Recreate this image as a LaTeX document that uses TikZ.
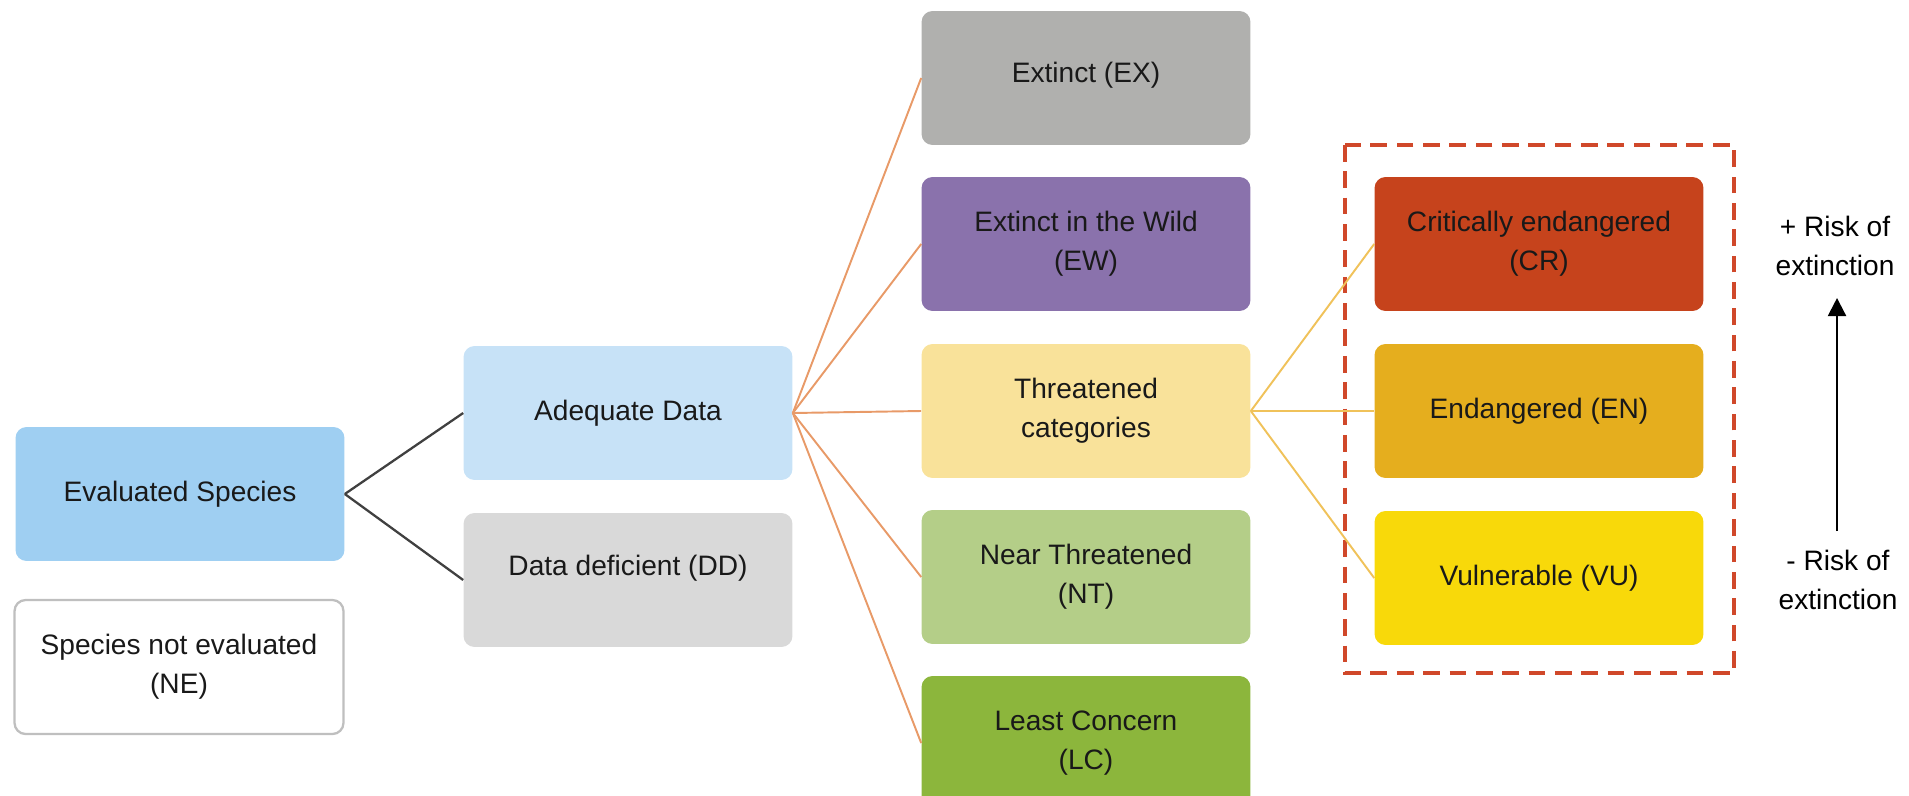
\documentclass[tikz,border=0pt]{standalone}
\usepackage{fontspec}
\setmainfont{Liberation Sans}
\usepackage{tikz}
\usetikzlibrary{positioning}
\usetikzlibrary{arrows.meta}

\definecolor{evalblue}{HTML}{9FCFF2}
\definecolor{adeqblue}{HTML}{C7E2F7}
\definecolor{ddgray}{HTML}{D9D9D9}
\definecolor{exgray}{HTML}{B0B0AE}
\definecolor{ewpurple}{HTML}{8A72AC}
\definecolor{thryellow}{HTML}{F9E29A}
\definecolor{ntgreen}{HTML}{B4CE88}
\definecolor{lcgreen}{HTML}{8CB63C}
\definecolor{crred}{HTML}{C6431C}
\definecolor{enorange}{HTML}{E5AE1E}
\definecolor{vuyellow}{HTML}{F8D90A}
\definecolor{linkorange}{HTML}{E89A68}
\definecolor{linkyellow}{HTML}{F0C25A}
\definecolor{framered}{HTML}{D0482A}

\tikzset{cat/.style={rectangle, rounded corners=0.22cm, minimum width=6.58cm, minimum height=2.68cm, align=center, inner sep=0pt, text=black!90}}
\tikzset{darklink/.style={draw=black!75, line width=1.3pt}}
\tikzset{orangelink/.style={draw=linkorange, line width=1.1pt}}
\tikzset{yellowlink/.style={draw=linkyellow, line width=1.1pt}}

\begin{document}
\begin{tikzpicture}[x=0.02cm, y=-0.02cm, font=\fontsize{16}{22}\selectfont]
\useasboundingbox (0,0) rectangle (1909,795);
\clip (0,0) rectangle (1909,795);
% first levels
\node[cat, fill=evalblue] (es) at (180,494) {Evaluated Species};
\node[cat, fill=white, draw=black!25, line width=1.3pt] (ne) at (179,667) {Species not evaluated\\(NE)};
\node[cat, fill=adeqblue] (ad) at (628,413) {Adequate Data};
\node[cat, fill=ddgray] (dd) at (628,580) {\raisebox{0.6cm}{Data deficient (DD)}};
% categories
\node[cat, fill=exgray] (ex) at (1086,78) {\raisebox{0.24cm}{Extinct (EX)}};
\node[cat, fill=ewpurple] (ew) at (1086,244) {Extinct in the Wild\\(EW)};
\node[cat, fill=thryellow] (thr) at (1086,411) {Threatened\\categories};
\node[cat, fill=ntgreen] (nt) at (1086,577) {Near Threatened\\(NT)};
\node[cat, fill=lcgreen] (lc) at (1086,743) {Least Concern\\(LC)};
% threatened
\node[cat, fill=crred] (cr) at (1539,244) {Critically endangered\\(CR)};
\node[cat, fill=enorange] (en) at (1539,411) {Endangered (EN)};
\node[cat, fill=vuyellow] (vu) at (1539,578) {Vulnerable (VU)};
\draw[framered, line width=2.6pt, dash pattern=on 9.5pt off 5.5pt] (1345,145) rectangle (1734,673);
% risk scale
\node[align=center] (plus) at (1835,246) {+ Risk of\\extinction};
\node[align=center] (minus) at (1838,580) {- Risk of\\extinction};
\coordinate (low) at (1837,531);
\coordinate (high) at (1837,298);
\draw[-{Triangle[length=0.36cm,width=0.36cm]}, line width=1.2pt] (low) -- (high);
% connectors
\draw[darklink] (es.east) -- (ad.west);
\draw[darklink] (es.east) -- (dd.west);
\foreach \n in {ex,ew,thr,nt,lc} {
\draw[orangelink] (ad.east) -- (\n.west);
}
\foreach \n in {cr,en,vu} {
\draw[yellowlink] (thr.east) -- (\n.west);
}
\end{tikzpicture}
\end{document}
